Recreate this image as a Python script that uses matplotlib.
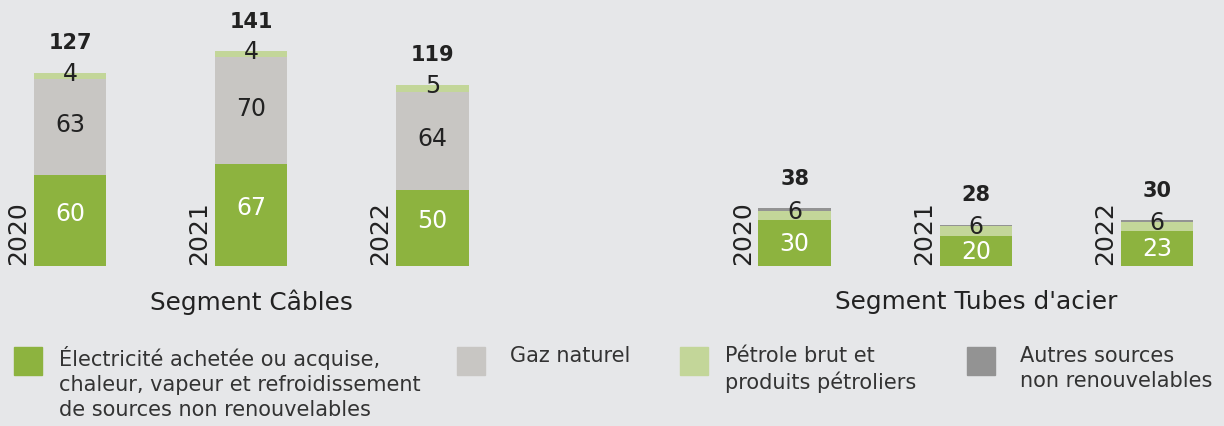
from matplotlib import pyplot as plt
from matplotlib.patches import Rectangle

# donnees
annees = ['2020', '2021', '2022']
segments = ['Segment Câbles', "Segment Tubes d'acier"]

elec_cables = [60, 67, 50]
gaz_cables = [63, 70, 64]
petrole_cables = [4, 4, 5]
autres_cables = [0, 0, 0]
total_cables = [127, 141, 119]

elec_tubes = [30, 20, 23]
gaz_tubes = [0, 0, 0]
petrole_tubes = [6, 6, 6]
autres_tubes = [2, 1, 1]
total_tubes = [38, 28, 30]

legende = ['Électricité achetée ou acquise,\nchaleur, vapeur et refroidissement\nde sources non renouvelables',
           'Gaz naturel',
           'Pétrole brut et\nproduits pétroliers',
           'Autres sources\nnon renouvelables']

vert = '#8db33f'
gris = '#c8c6c3'
vert_clair = '#c3d699'
gris_fonce = '#939393'
fond = '#e6e7e9'
texte = '#222222'

W, H = 1224, 427


def plot():
    fig = plt.figure(figsize=(W / 100, H / 100), dpi=100, facecolor=fond)
    ax = fig.add_axes([0, 0, 1, 1])
    ax.set_facecolor(fond)
    ax.axis('off')

    # echelle : 181 px par position, 1.522 px par unite, base a y=267 px
    px_x = 181.17
    px_y = 1.522
    ax.set_xlim(-70 / px_x, 6 + (W - 1157) / px_x)
    ax.set_ylim(-(H - 267) / px_y, 267 / px_y)

    groupes = [
        ([0, 1, 2], elec_cables, gaz_cables, petrole_cables, autres_cables, total_cables, 5),
        ([4, 5, 6], elec_tubes, gaz_tubes, petrole_tubes, autres_tubes, total_tubes, 0),
    ]
    largeur = 0.40

    for (pos, e, g, p, a, tot, decal), nom in zip(groupes, segments):
        b1 = [e[i] for i in range(3)]
        b2 = [e[i] + g[i] for i in range(3)]
        b3 = [e[i] + g[i] + p[i] for i in range(3)]
        ax.bar(pos, e, largeur, color=vert)
        ax.bar(pos, g, largeur, bottom=b1, color=gris)
        ax.bar(pos, p, largeur, bottom=b2, color=vert_clair)
        ax.bar(pos, a, largeur, bottom=b3, color=gris_fonce)

        for i in range(3):
            ax.text(pos[i], e[i] / 2 + decal, str(e[i]), ha='center', va='center',
                    color='white', fontsize=17)
            if g[i] > 0:
                ax.text(pos[i], b1[i] + g[i] / 2 + 2, str(g[i]), ha='center',
                        va='center', color=texte, fontsize=17)
            ax.text(pos[i], b3[i], str(p[i]), ha='center', va='center',
                    color=texte, fontsize=17)
            ax.annotate(str(tot[i]), (pos[i], b3[i] + a[i]), xytext=(0, 22),
                        textcoords='offset points', ha='center', va='center',
                        fontsize=15, fontweight='bold', color=texte)
            ax.text(pos[i] - largeur / 2 - 0.02, 1, annees[i], rotation=90,
                    ha='right', va='bottom', fontsize=18, color=texte)

        ax.text(pos[1], -(302 - 267) / px_y, nom, ha='center', va='center',
                fontsize=17.8, color=texte)

    # legende
    couleurs = [vert, gris, vert_clair, gris_fonce]
    carres_x = [14, 457, 680, 967]
    textes_x = [59, 510, 725, 1020]
    for c, cx, tx, lab in zip(couleurs, carres_x, textes_x, legende):
        fig.add_artist(Rectangle((cx / W, 1 - 376 / H), 28 / W, 28 / H,
                                 transform=fig.transFigure, color=c))
        fig.text(tx / W, 1 - 346 / H, lab, ha='left', va='top', fontsize=15,
                 color='#333333', linespacing=1.3)

    plt.savefig('out.png', dpi=100, facecolor=fond)


plot()
